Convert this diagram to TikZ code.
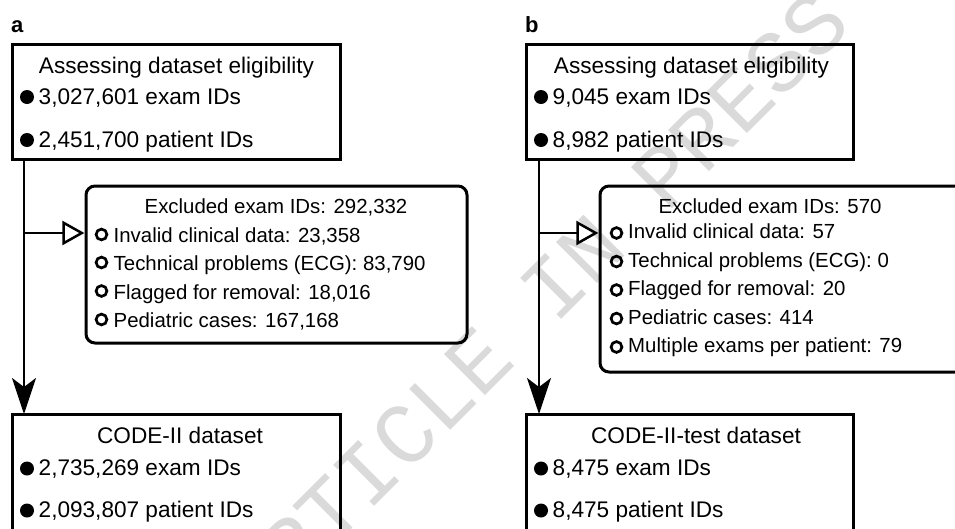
\documentclass[tikz,border=0pt]{standalone}
\usepackage{fontspec}
\setmainfont{Liberation Sans}
\newfontfamily\wmfont{Liberation Mono}
\usetikzlibrary{arrows.meta,calc}
\definecolor{wm}{RGB}{218,218,218}
\begin{document}
\begin{tikzpicture}[x=1pt,y=-1pt,
  box/.style={draw, line width=3pt, inner sep=0pt, outer sep=0pt},
  rbox/.style={box, rounded corners=9pt},
  big/.style={font=\fontsize{22.6}{26}\selectfont, inner sep=0pt, anchor=base west},
  bigc/.style={big, anchor=base},
  small/.style={font=\fontsize{20.4}{24}\selectfont, inner sep=0pt, anchor=base west},
  smallc/.style={small, anchor=base},
  lbl/.style={font=\fontsize{22}{26}\selectfont\bfseries, inner sep=0pt, anchor=base west},
  conn/.style={line width=2.5pt},
  dot/.style={fill=black},
  ring/.style={draw=black, line width=2.7pt},
  downarrow/.style={conn, -{Stealth[length=36pt,width=24pt,inset=9pt]}},
  sidearrow/.style={conn, -{Triangle[open,length=22pt,width=24pt,line width=2.5pt]}}
]
\useasboundingbox (0,0) rectangle (955,528);
\clip (0,0) rectangle (955,528);

% watermark
\node[wm, font=\wmfont\fontsize{88}{90}\selectfont, rotate=45, inner sep=0pt] (wmark) at (535,305) {ARTICLE IN PRESS};

% ---------------- panel a ----------------
\node[lbl] (la) at (11,32) {a};
\node[box, minimum width=328pt, minimum height=115pt] (a1) at (176,101.5) {};
\node[bigc] (a1t) at (176.5,73) {Assessing dataset eligibility};
\fill[dot] (27,97) circle (7);
\node[big] (a1r1) at (38.5,104) {3,027,601 exam IDs};
\fill[dot] (27,140) circle (7);
\node[big] (a1r2) at (38.5,147) {2,451,700 patient IDs};

\node[rbox, minimum width=381pt, minimum height=157pt] (a2) at (276.5,264.5) {};
\node[smallc] (a2t) at (276,213) {Excluded exam IDs: 292,332};
\draw[ring] (101.5,234.5) circle (5.4);
\node[small] (a2r1) at (113.5,242) {Invalid clinical data: 23,358};
\draw[ring] (101.5,262.5) circle (5.4);
\node[small] (a2r2) at (113.5,270.5) {Technical problems (ECG): 83,790};
\draw[ring] (101.5,291) circle (5.4);
\node[small] (a2r3) at (113.5,299) {Flagged for removal: 18,016};
\draw[ring] (101.5,319.5) circle (5.4);
\node[small] (a2r4) at (113.5,327.5) {Pediatric cases: 167,168};

\node[box, minimum width=328pt, minimum height=146pt] (a3) at (176,487) {};
\node[bigc] (a3t) at (180,443) {CODE-II dataset};
\fill[dot] (27,468.5) circle (7);
\node[big] (a3r1) at (38.5,475.5) {2,735,269 exam IDs};
\fill[dot] (27,510.5) circle (7);
\node[big] (a3r2) at (38.5,517.5) {2,093,807 patient IDs};

\coordinate (a1s) at ($(a1.south west)+(12,0)$);
\coordinate (a3n) at ($(a3.north west)+(12,0)$);
\coordinate (a2in) at ($(a2.north west)+(-1.6,47)$);
\draw[downarrow] (a1s) -- (a3n);
\draw[sidearrow] (a1s |- a2in) -- (a2in);

% ---------------- panel b ----------------
\node[lbl] (lb) at (525,32) {b};
\node[box, minimum width=327pt, minimum height=115pt] (b1) at (689.5,101.5) {};
\node[bigc] (b1t) at (691.5,73) {Assessing dataset eligibility};
\fill[dot] (541,97) circle (7);
\node[big] (b1r1) at (552.5,104) {9,045 exam IDs};
\fill[dot] (541,140) circle (7);
\node[big] (b1r2) at (552.5,147) {8,982 patient IDs};

\node[rbox, minimum width=381pt, minimum height=186pt] (b2) at (790.5,279) {};
\node[smallc] (b2t) at (770,213) {Excluded exam IDs: 570};
\draw[ring] (616.5,233) circle (5.4);
\node[small] (b2r1) at (628,238.5) {Invalid clinical data: 57};
\draw[ring] (616.5,261.5) circle (5.4);
\node[small] (b2r2) at (628,267) {Technical problems (ECG): 0};
\draw[ring] (616.5,290) circle (5.4);
\node[small] (b2r3) at (628,295.5) {Flagged for removal: 20};
\draw[ring] (616.5,318.5) circle (5.4);
\node[small] (b2r4) at (628,324) {Pediatric cases: 414};
\draw[ring] (616.5,347) circle (5.4);
\node[small] (b2r5) at (628,352.5) {Multiple exams per patient: 79};

\node[box, minimum width=327pt, minimum height=146pt] (b3) at (689.5,487) {};
\node[bigc] (b3t) at (696,443) {CODE-II-test dataset};
\fill[dot] (541,468.5) circle (7);
\node[big] (b3r1) at (552.5,475.5) {8,475 exam IDs};
\fill[dot] (541,510.5) circle (7);
\node[big] (b3r2) at (552.5,517.5) {8,475 patient IDs};

\coordinate (b1s) at ($(b1.south west)+(13,0)$);
\coordinate (b3n) at ($(b3.north west)+(13,0)$);
\coordinate (b2in) at ($(b2.north west)+(-1.6,47)$);
\draw[downarrow] (b1s) -- (b3n);
\draw[sidearrow] (b1s |- b2in) -- (b2in);
\end{tikzpicture}
\end{document}
